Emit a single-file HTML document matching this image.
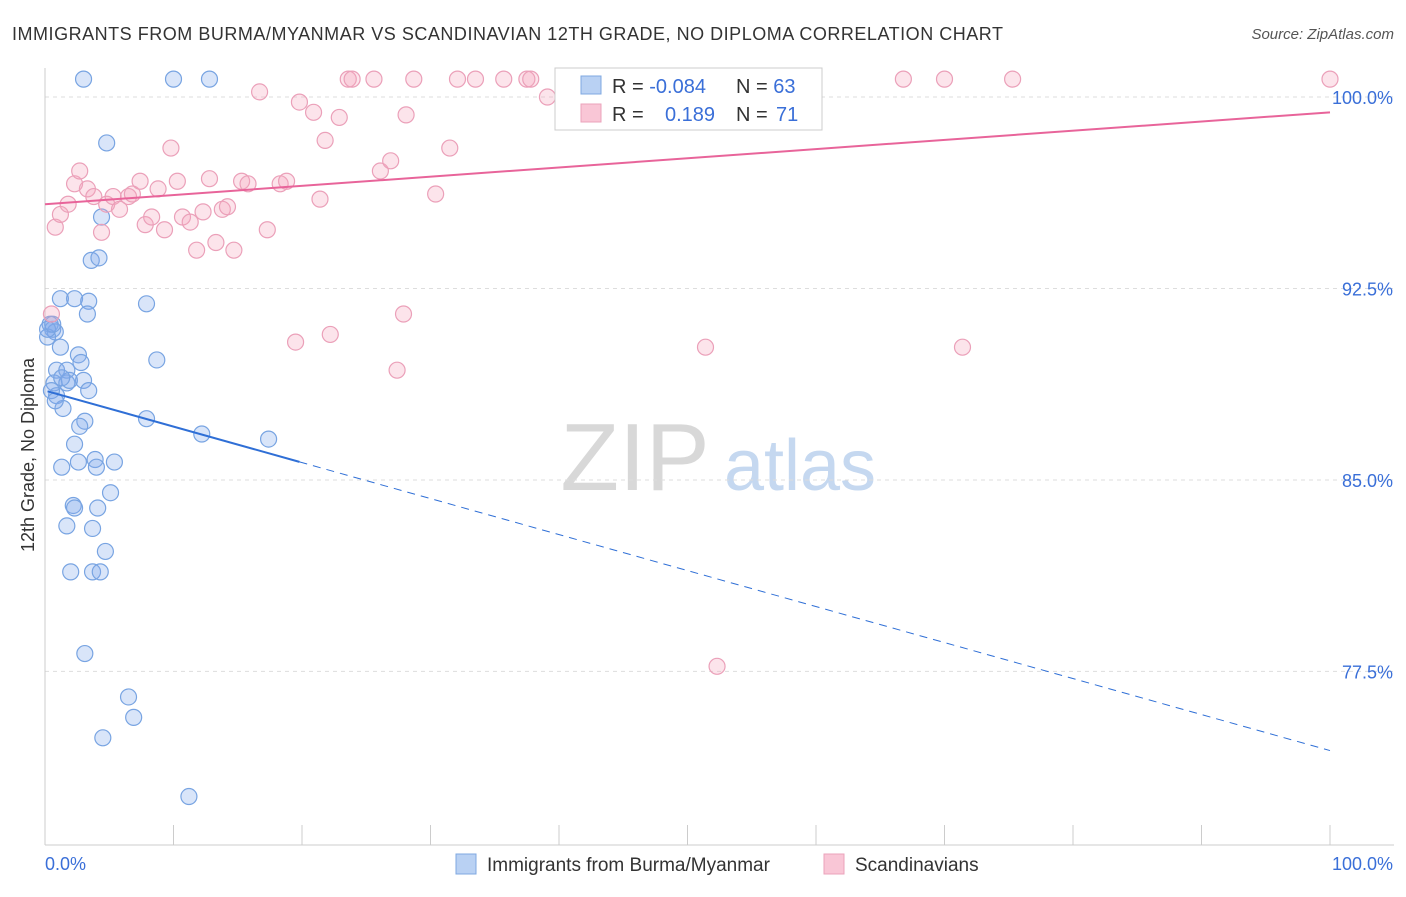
<!DOCTYPE html>
<html><head><meta charset="utf-8">
<style>
body{margin:0;background:#fff;font-family:"Liberation Sans",sans-serif;}
svg text{font-family:"Liberation Sans",sans-serif;}
</style></head>
<body>
<svg id="chart" width="1406" height="892" xmlns="http://www.w3.org/2000/svg">
<text x="12" y="40" font-size="18" fill="#333" textLength="991" lengthAdjust="spacing">IMMIGRANTS FROM BURMA/MYANMAR VS SCANDINAVIAN 12TH GRADE, NO DIPLOMA CORRELATION CHART</text>
<text x="1394" y="39" font-size="15" fill="#555" font-style="italic" text-anchor="end">Source: ZipAtlas.com</text>
<g>
<text x="635" y="490" font-size="96" fill="#d8d8d8" font-family="Liberation Serif" text-anchor="middle">ZIP</text>
<text x="800" y="490" font-size="72" fill="#c5d8f0" text-anchor="middle">atlas</text>
</g>
<text transform="translate(34,455) rotate(-90)" font-size="18" fill="#333" text-anchor="middle">12th Grade, No Diploma</text>
<g id="grid"></g>
<g id="axes"></g>
<g id="marks"></g>
<g>
<rect x="555" y="68" width="267" height="62" fill="#fff" stroke="#ccc"/>
<rect x="581" y="76" width="20" height="18" fill="#b9d1f3" stroke="#7fa8e0"/>
<rect x="581" y="104" width="20" height="18" fill="#f9c6d6" stroke="#eba3bb"/>
<text x="612" y="93" font-size="20" fill="#333">R = <tspan fill="#3a6fd8">-0.084</tspan></text>
<text x="736" y="93" font-size="20" fill="#333">N = <tspan fill="#3a6fd8">63</tspan></text>
<text x="612" y="121" font-size="20" fill="#333">R = <tspan fill="#3a6fd8" x="665">0.189</tspan></text>
<text x="736" y="121" font-size="20" fill="#333">N = <tspan fill="#3a6fd8" x="776">71</tspan></text>
</g>
<g>
<rect x="456" y="854" width="20" height="20" fill="#b9d1f3" stroke="#7fa8e0"/>
<text x="487" y="871" font-size="19" fill="#333">Immigrants from Burma/Myanmar</text>
<rect x="824" y="854" width="20" height="20" fill="#f9c6d6" stroke="#eba3bb"/>
<text x="855" y="871" font-size="19" fill="#333">Scandinavians</text>
</g>
</svg>
<script>
const yTicks=[100,92.5,85,77.5];
const yTickLabels=["100.0%","92.5%","85.0%","77.5%"];
const blueX=[3.0,10.0,12.8,4.8,4.4,3.6,4.2,1.2,2.3,3.4,7.9,3.3,0.4,0.6,0.8,0.2,1.2,2.6,8.7,2.8,0.9,1.7,0.7,1.7,1.9,3.0,3.4,0.9,1.4,3.1,2.7,7.9,12.2,17.4,2.3,3.9,4.0,5.4,2.6,1.3,5.1,2.2,2.3,4.1,1.7,3.7,4.7,2.0,3.7,4.3,3.1,6.5,6.9,4.5,11.2,0.5,1.3,0.8,0.2,0.6];
const blueY=[100.7,100.7,100.7,98.2,95.3,93.6,93.7,92.1,92.1,92.0,91.9,91.5,91.1,90.9,90.8,90.6,90.2,89.9,89.7,89.6,89.3,89.3,88.8,88.8,88.9,88.9,88.5,88.3,87.8,87.3,87.1,87.4,86.8,86.6,86.4,85.8,85.5,85.7,85.7,85.5,84.5,84.0,83.9,83.9,83.2,83.1,82.2,81.4,81.4,81.4,78.2,76.5,75.7,74.9,72.6,88.5,89.0,88.1,90.9,91.1];
const pinkX=[0.8,0.5,1.2,1.8,2.3,2.7,3.3,3.8,4.4,4.8,5.3,5.8,6.5,6.8,7.4,7.8,8.3,8.8,9.3,9.8,10.3,10.7,11.3,11.8,12.3,12.8,13.3,13.8,14.2,14.7,15.3,15.8,16.7,17.3,18.3,18.8,19.5,19.8,20.9,21.4,21.8,22.2,22.9,23.6,23.9,25.6,26.1,26.9,27.4,27.9,28.1,28.7,31.5,30.4,32.1,33.5,35.7,37.5,37.8,39.1,47.1,49.6,51.4,52.3,66.8,70.0,71.4,75.3,100];
const pinkY=[94.9,91.5,95.4,95.8,96.6,97.1,96.4,96.1,94.7,95.8,96.1,95.6,96.1,96.2,96.7,95.0,95.3,96.4,94.8,98.0,96.7,95.3,95.1,94.0,95.5,96.8,94.3,95.6,95.7,94.0,96.7,96.6,100.2,94.8,96.6,96.7,90.4,99.8,99.4,96.0,98.3,90.7,99.2,100.7,100.7,100.7,97.1,97.5,89.3,91.5,99.3,100.7,98.0,96.2,100.7,100.7,100.7,100.7,100.7,100.0,100.7,100.7,90.2,77.7,100.7,100.7,90.2,100.7,100.7];
const blueTrend=[88.5,74.4];
const pinkTrend=[95.8,99.4];
const NS='http://www.w3.org/2000/svg';
const X=v=>45+v*12.85;
const Y=v=>97+(100-v)*25.53;
function mk(tag,attrs,parent){const e=document.createElementNS(NS,tag);for(const k in attrs)e.setAttribute(k,attrs[k]);parent.appendChild(e);return e;}
const grid=document.getElementById('grid'),axes=document.getElementById('axes'),marks=document.getElementById('marks');
yTicks.forEach((t,i)=>{
 const l=mk('line',{x1:45,x2:1394,y1:Y(t),y2:Y(t),stroke:'#ddd','stroke-dasharray':'4,4'},grid);
 
 
 const tx=mk('text',{x:1393,y:Y(t)+7,'font-size':18,fill:'#3a6fd8','text-anchor':'end'},axes);
 tx.textContent=yTickLabels[i];
 
 
});
const ax=mk('line',{x1:45,x2:1394,y1:845,y2:845,stroke:'#ccc'},axes);


const ay=mk('line',{x1:45,x2:45,y1:68,y2:845,stroke:'#ccc'},axes);


for(let i=0;i<=10;i++){const t=mk('line',{x1:X(i*10),x2:X(i*10),y1:825,y2:845,stroke:'#ccc'},axes);
 
 }
const xl0=mk('text',{x:45,y:870,'font-size':18,fill:'#3a6fd8'},axes);xl0.textContent='0.0%';


const xl1=mk('text',{x:1393,y:870,'font-size':18,fill:'#3a6fd8','text-anchor':'end'},axes);xl1.textContent='100.0%';


function pts(xs,ys,fill,stroke,name){xs.forEach((x,i)=>{const c=mk('circle',{cx:X(x),cy:Y(ys[i]),r:8,fill:fill,stroke:stroke,'stroke-width':1.2},marks);
 
 });}
pts(blueX,blueY,'rgba(130,170,235,0.3)','#78a4e2','burma-point');
pts(pinkX,pinkY,'rgba(245,165,190,0.3)','#eba0b9','scandinavian-point');
const bt=x=>blueTrend[0]+(blueTrend[1]-blueTrend[0])*x/100;
const b1=mk('line',{x1:X(0.2),y1:Y(bt(0.2)),x2:X(19.8),y2:Y(bt(19.8)),stroke:'#2f6fd6','stroke-width':2},marks);


const b2=mk('line',{x1:X(19.8),y1:Y(bt(19.8)),x2:X(100),y2:Y(bt(100)),stroke:'#2f6fd6','stroke-width':1,'stroke-dasharray':'8,6'},marks);


const p1=mk('line',{x1:X(0),y1:Y(pinkTrend[0]),x2:X(100),y2:Y(pinkTrend[1]),stroke:'#e8649a','stroke-width':2},marks);


</script>
</body></html>
